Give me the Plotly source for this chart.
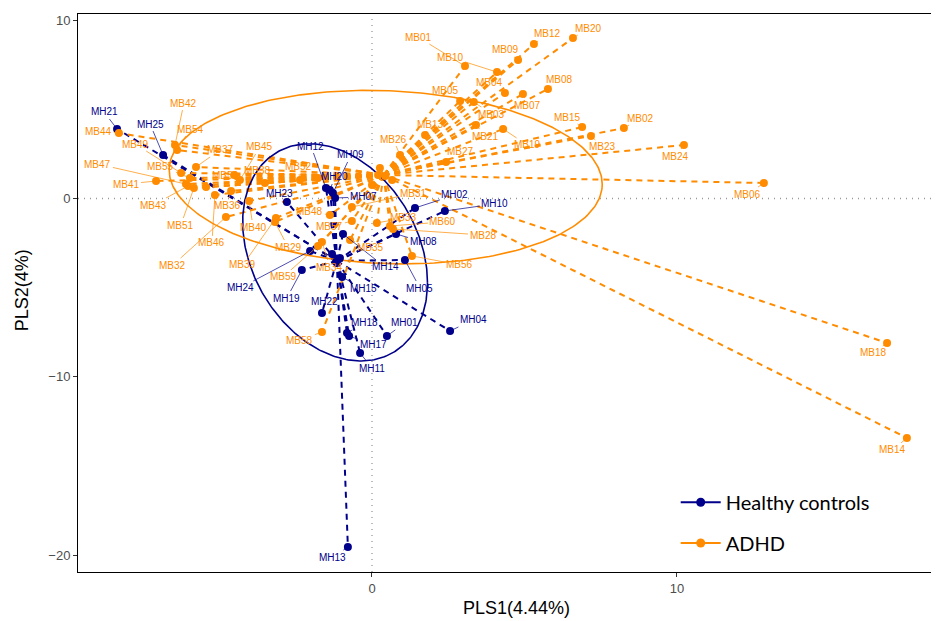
import numpy as np
import plotly.graph_objects as go

# ---------------- data ----------------
hc_names = ["MH%02d" % i for i in range(1, 26)]
hc_x = [0.49, 1.41, -1.31, 2.56, 1.08, -1.05, -1.21, 0.79, -1.28, 2.39,
        -0.39, -1.51, -0.79, -0.95, -0.98, -1.18, -0.75, -0.82, -2.30, -1.38,
        -8.36, -1.64, -2.79, -2.03, -6.85]
hc_y = [-7.71, -0.53, -3.11, -7.43, -3.45, -3.34, 0.03, -1.99, 0.31, -0.70,
        -8.67, 0.59, -19.55, -1.99, -4.40, -3.56, -7.71, -7.54, -4.01, 0.48,
        3.90, -6.42, -0.20, -2.94, 2.44]

ad_names = ["MB%02d" % i for i in range(1, 61)]
ad_x = [3.05, 8.26, 3.34, 4.36, 2.89, 12.85, 4.95, 5.77, 4.79, 4.10,
        -5.44, 5.31, 1.74, 17.54, 6.89, 0.26, 0.66, 16.89, 4.30, 6.59,
        3.41, 0.20, 7.18, 10.23, 0.43, 0.92, 2.43, 0.69, -3.18, 0.00,
        -0.66, -4.79, 0.16, -1.64, -0.72, -4.62, -5.77, -3.51, -3.15, -4.03,
        -7.08, -6.46, -6.03, -8.30, -4.33, -5.15, -6.10, -1.38, -6.26, -4.52,
        -5.84, -2.36, -1.77, -6.39, -5.97, 1.31, -0.66, -1.64, -1.77, 0.59]
ad_y = [7.43, 3.95, 5.41, 5.92, 5.47, 0.87, 5.86, 6.14, 7.77, 7.09,
        0.64, 8.67, 3.56, -13.43, 4.01, 1.71, 1.04, -8.10, 3.90, 9.00,
        4.12, 1.32, 3.51, 3.00, 1.26, 2.44, 2.05, -1.71, -1.32, 0.76,
        -0.48, -1.04, -1.37, -2.44, -2.33, 0.42, 1.77, 0.87, -1.09, -0.14,
        0.98, 3.00, 0.70, 3.67, 1.04, 0.20, 0.81, -0.93, 1.43, 1.32,
        0.59, 1.04, 1.15, 2.72, 1.15, -3.22, -1.26, -7.49, -2.66, -1.54]

group_labels = ["Healthy controls", "ADHD"]
x_title = "PLS1(4.44%)"
y_title = "PLS2(4%)"

# ---------------- styling ----------------
BLUE = "#00008B"
ORANGE = "#FF8C00"
LABEL_FONT = "Liberation Sans, Arial, sans-serif"

# label offsets in pixels (label centre relative to point); missing = label hidden
hc_label_off = {
    "MH21": (-13, -17), "MH25": (-13, -31), "MH12": (-15, -42), "MH09": (18, -38),
    "MH20": (5, -13), "MH07": (28, -1), "MH23": (-7, -9), "MH02": (40, -13),
    "MH10": (50, -7), "MH08": (27, 8), "MH14": (42, 33), "MH05": (15, 28),
    "MH04": (23, -11), "MH01": (18, -13), "MH18": (18, -10), "MH17": (24, 9),
    "MH11": (12, 15), "MH22": (3, -11), "MH19": (-15, 28), "MH24": (-70, 37),
    "MH15": (21, 12), "MH13": (-15, 10),
}
ad_label_off = {
    "MB01": (-47, -29), "MB10": (-47, -15), "MB12": (14, -10), "MB20": (16, -10),
    "MB09": (-13, -10), "MB08": (12, -10), "MB04": (-15, -10), "MB07": (5, 11),
    "MB05": (-15, -11), "MB03": (18, 12), "MB21": (10, 11), "MB19": (24, 16),
    "MB13": (5, -11), "MB27": (14, -10), "MB15": (-15, -10), "MB23": (12, 11),
    "MB02": (17, -10), "MB24": (-8, 11), "MB06": (-16, 11), "MB18": (-14, 10),
    "MB14": (-14, 12), "MB26": (-7, -16), "MB31": (62, -14), "MB33": (27, -5),
    "MB60": (53, -4), "MB28": (90, 6), "MB56": (48, 9), "MB35": (20, 7),
    "MB57": (-22, 6), "MB34": (8, 25), "MB59": (-35, 31), "MB29": (13, 25),
    "MB58": (-22, 8), "MB48": (-20, -4), "MB39": (-33, 47), "MB40": (4, 26),
    "MB32": (-53, 48), "MB46": (-3, 48), "MB36": (-4, 14), "MB51": (-13, 37),
    "MB43": (-35, 19), "MB41": (-30, 3), "MB47": (-88, -20), "MB44": (-20, -2),
    "MB49": (-46, -29), "MB42": (9, -42), "MB54": (13, -21), "MB37": (24, -17),
    "MB45": (20, -33), "MB50": (-9, 1), "MB55": (-29, -12), "MB38": (-7, -13),
    "MB52": (-2, -13),
}

fig = go.Figure()

def star_trace(xs, ys, color):
    cx, cy = float(np.mean(xs)), float(np.mean(ys))
    lx, ly = [], []
    for x, y in zip(xs, ys):
        lx += [cx, x, None]
        ly += [cy, y, None]
    return go.Scatter(x=lx, y=ly, mode="lines", showlegend=False, hoverinfo="skip",
                      line=dict(color=color, width=2, dash="6px,5px"))

def ellipse_trace(cx, cy, a, b, c, color):
    t = np.linspace(0, 2 * np.pi, 300)
    ex = cx + a * np.cos(t)
    ey = cy + b * np.cos(t) + c * np.sin(t)
    return go.Scatter(x=ex, y=ey, mode="lines", showlegend=False, hoverinfo="skip",
                      line=dict(color=color, width=1.6))

fig.add_trace(star_trace(hc_x, hc_y, BLUE))
fig.add_trace(star_trace(ad_x, ad_y, ORANGE))
fig.add_trace(ellipse_trace(-1.21, -3.02, 3.03, -1.7, 5.85, BLUE))
fig.add_trace(ellipse_trace(0.45, 1.2, 7.1, -0.4, 4.85, ORANGE))

fig.add_trace(go.Scatter(x=hc_x, y=hc_y, mode="markers", text=hc_names, showlegend=False,
                         marker=dict(color=BLUE, size=8)))
fig.add_trace(go.Scatter(x=ad_x, y=ad_y, mode="markers", text=ad_names, showlegend=False,
                         marker=dict(color=ORANGE, size=8)))

# legend-only traces
fig.add_trace(go.Scatter(x=[None], y=[None], mode="lines+markers", name=group_labels[0],
                         line=dict(color=BLUE, width=2), marker=dict(color=BLUE, size=9),
                         legend="legend"))
fig.add_trace(go.Scatter(x=[None], y=[None], mode="lines+markers", name=group_labels[1],
                         line=dict(color=ORANGE, width=2), marker=dict(color=ORANGE, size=9),
                         legend="legend2"))

annotations = []
def add_labels(names, xs, ys, offs, color):
    for n, x, y in zip(names, xs, ys):
        if n not in offs:
            continue
        dx, dy = offs[n]
        annotations.append(dict(x=x, y=y, ax=dx, ay=dy, text=n, showarrow=True,
                                arrowhead=0, arrowwidth=0.7, arrowcolor=color,
                                standoff=3, font=dict(size=10, color=color, family=LABEL_FONT)))

add_labels(hc_names, hc_x, hc_y, hc_label_off, BLUE)
add_labels(ad_names, ad_x, ad_y, ad_label_off, ORANGE)

# axis titles as annotations (fixed margins)
annotations.append(dict(xref="paper", yref="paper", x=0.51, y=-0.0645, text=x_title,
                        showarrow=False, xanchor="center", yanchor="middle",
                        font=dict(size=18, color="black", family=LABEL_FONT)))
annotations.append(dict(xref="paper", yref="paper", x=-0.065, y=0.505, text=y_title,
                        showarrow=False, textangle=-90, xanchor="center", yanchor="middle",
                        font=dict(size=18, color="black", family=LABEL_FONT)))

LEG_FONT = dict(size=20, family="Lato, sans-serif", color="black")
# the page body has an 8px margin, so the figure is sized/offset to compensate
fig.update_layout(
    width=931, height=613,
    margin=dict(l=70, r=1, t=6, b=49, autoexpand=False),
    plot_bgcolor="white", paper_bgcolor="white",
    annotations=annotations,
    legend=dict(x=0.695, y=0.125, xanchor="left", yanchor="middle", font=LEG_FONT,
                itemwidth=40, bgcolor="rgba(0,0,0,0)"),
    legend2=dict(x=0.695, y=0.052, xanchor="left", yanchor="middle", font=LEG_FONT,
                 itemwidth=40, bgcolor="rgba(0,0,0,0)"),
    font=dict(family=LABEL_FONT),
)

axis_common = dict(showgrid=False, zeroline=False, showline=True, linecolor="black",
                   linewidth=1, mirror=True, ticks="outside", ticklen=4, tickcolor="#333",
                   automargin=False,
                   tickfont=dict(size=13, color="#4D4D4D", family=LABEL_FONT))
fig.update_xaxes(range=[-9.64, 18.56], tickvals=[0, 10], **axis_common)
fig.update_yaxes(range=[-20.95, 10.35], tickvals=[-20, -10, 0, 10], **axis_common)

fig.add_hline(y=0, line=dict(color="#999", width=1.3, dash="1px,5px"), layer="below")
fig.add_vline(x=0, line=dict(color="#999", width=1.3, dash="1px,5px"), layer="below")

fig.write_html("out.html")
